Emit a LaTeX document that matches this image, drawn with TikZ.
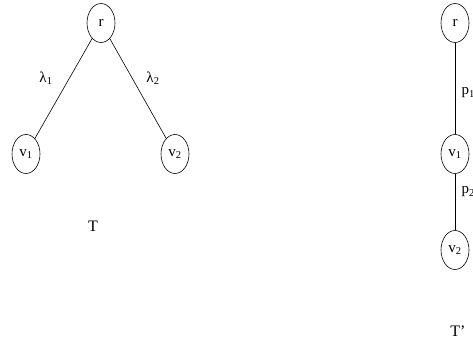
\documentclass[tikz,border=0pt]{standalone}
\usepackage{fontspec}
\setmainfont{Liberation Serif}
\usetikzlibrary{shapes.geometric}
\begin{document}
\begin{tikzpicture}[x=1pt,y=-1pt,
  vert/.style={draw, ellipse, minimum width=28pt, minimum height=39pt, inner sep=0pt, line width=0.6pt, font=\fontsize{15}{17}\selectfont},
  edge/.style={line width=0.6pt},
  lab/.style={font=\fontsize{15}{17}\selectfont, inner sep=0pt},
  title/.style={font=\fontsize{16}{18}\selectfont, inner sep=0pt}]
\useasboundingbox (0,0) rectangle (473,352);
% left tree
\node[vert] (r) at (101,23) {r};
\node[vert] (v1) at (26,154) {v\textsubscript{1}};
\node[vert] (v2) at (175,154) {v\textsubscript{2}};
\draw[edge] (r) -- (v1);
\draw[edge] (r) -- (v2);
\node[lab] (l1) at (46,78) {λ\textsubscript{1}};
\node[lab] (l2) at (153,78) {λ\textsubscript{2}};
\node[title] (T) at (93,226) {T};
% right tree
\node[vert] (rr) at (455,23) {r};
\node[vert] (w1) at (455,154) {v\textsubscript{1}};
\node[vert] (w2) at (455,250) {v\textsubscript{2}};
\draw[edge] (rr) -- (w1);
\draw[edge] (w1) -- (w2);
\node[lab, anchor=west] (p1) at (461.5,93) {p\textsubscript{1}};
\node[lab, anchor=west] (p2) at (461.5,192) {p\textsubscript{2}};
\node[title] (Tp) at (458,331) {T’};
\end{tikzpicture}
\end{document}
